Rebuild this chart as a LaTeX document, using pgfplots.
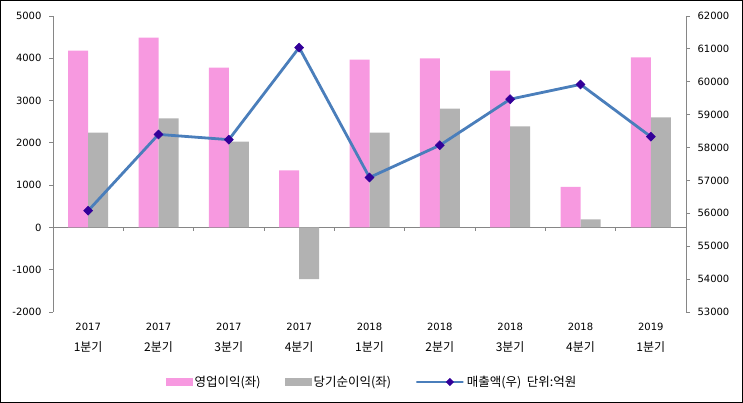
\documentclass[border=0pt]{standalone}
\usepackage{fontspec}
\setmainfont{DejaVu Sans}
\newfontfamily\kr{Noto Sans CJK KR}
\usepackage{pgfplots}
\pgfplotsset{compat=1.18}

\definecolor{pinkbar}{RGB}{247,153,224}
\definecolor{graybar}{RGB}{178,178,178}
\definecolor{lineblue}{RGB}{74,126,187}
\definecolor{mk}{RGB}{51,0,153}
\definecolor{axgray}{RGB}{134,134,134}

\pgfplotsset{
  barlegend/.style={legend image code/.code={\fill[##1] (0pt,-3.8pt) rectangle (27pt,3.8pt);}},
  linelegend/.style={legend image code/.code={\draw[##1, mark repeat=2, mark phase=2] plot coordinates {(0pt,0pt) (13.5pt,0pt) (27pt,0pt)};}},
}
\newcommand{\q}[1]{{\kr\fontsize{12}{14}\selectfont #1분기}}

\pgfplotstableread{
x op net
0 4180 2240
1 4490 2580
2 3780 2030
3 1350 -1220
4 3970 2240
5 4000 2810
6 3710 2390
7 960 190
8 4020 2600
}\barsdata

\pgfplotstableread{
x sales
0 56080
1 58400
2 58240
3 61040
4 57090
5 58070
6 59470
7 59920
8 58330
}\salesdata

\begin{document}
\begin{tikzpicture}[x=1pt,y=1pt]
\draw[line width=1pt] (0.5,0.5) rectangle (742.5,402.5);
\begin{axis}[
  at={(53pt,91pt)}, anchor=south west, scale only axis,
  width=633pt, height=296pt,
  xmin=-0.5, xmax=8.5, ymin=-2000, ymax=5000,
  axis y line*=left, axis x line*=bottom,
  x axis line style={draw=none},
  y axis line style={axgray, line width=0.8pt},
  ytick={-2000,-1000,...,5000},
  ytick style={axgray, line width=0.8pt},
  tick align=outside, major tick length=4pt,
  xtick={0,...,8}, xtick style={draw=none},
  xticklabels={
    {2017\\\q{1}},{2017\\\q{2}},{2017\\\q{3}},
    {2017\\\q{4}},{2018\\\q{1}},{2018\\\q{2}},
    {2018\\\q{3}},{2018\\\q{4}},{2019\\\q{1}}},
  xticklabel style={align=center, font=\fontsize{10}{21}\selectfont, yshift=-4pt},
  yticklabel style={font=\fontsize{10}{12}\selectfont, xshift=-4pt},
  /pgf/number format/assume math mode=true,
  /pgf/number format/1000 sep={},
  scaled y ticks=false,
  ybar=0pt, bar width=20pt,
  legend columns=3,
  legend style={at={(axis description cs:0.504,-0.2365)}, anchor=center, draw=none,
    font=\kr\fontsize{12.5}{14}\selectfont,
    /tikz/every even column/.append style={column sep=22pt}},
  clip=false,
]
\draw[axgray, line width=0.8pt] (axis cs:-0.5,0) -- (axis cs:8.5,0);
\pgfplotsinvokeforeach{0,...,7}{
  \draw[axgray, line width=0.8pt] (axis cs:#1.5,0) -- ++(0pt,-4pt);
}
\addplot[fill=pinkbar, draw=none, barlegend] table[x=x, y=op] {\barsdata};
\addlegendentry{영업이익(좌)}
\addplot[fill=graybar, draw=none, barlegend] table[x=x, y=net] {\barsdata};
\addlegendentry{당기순이익(좌)}
\addlegendimage{lineblue, line width=2.8pt, mark=square*, mark size=2.6pt,
  mark options={fill=mk, draw=mk, rotate=45, line width=0.5pt}, linelegend}
\addlegendentry{매출액(우)\ \ 단위:억원}
\end{axis}
\begin{axis}[
  at={(53pt,91pt)}, anchor=south west, scale only axis,
  width=633pt, height=296pt,
  xmin=-0.5, xmax=8.5, ymin=53000, ymax=62000,
  axis y line*=right, axis x line=none,
  y axis line style={axgray, line width=0.8pt},
  ytick={53000,54000,...,62000},
  ytick style={axgray, line width=0.8pt},
  tick align=outside, major tick length=4pt,
  yticklabel style={font=\fontsize{10}{12}\selectfont, xshift=4pt},
  /pgf/number format/assume math mode=true,
  /pgf/number format/1000 sep={},
  scaled y ticks=false,
  clip=false,
]
\addplot[lineblue, line width=2.8pt, mark=square*, mark size=3.2pt,
  mark options={fill=mk, draw=mk, rotate=45, line width=0.5pt}]
  table[x=x, y=sales] {\salesdata};
\end{axis}
\end{tikzpicture}
\end{document}
